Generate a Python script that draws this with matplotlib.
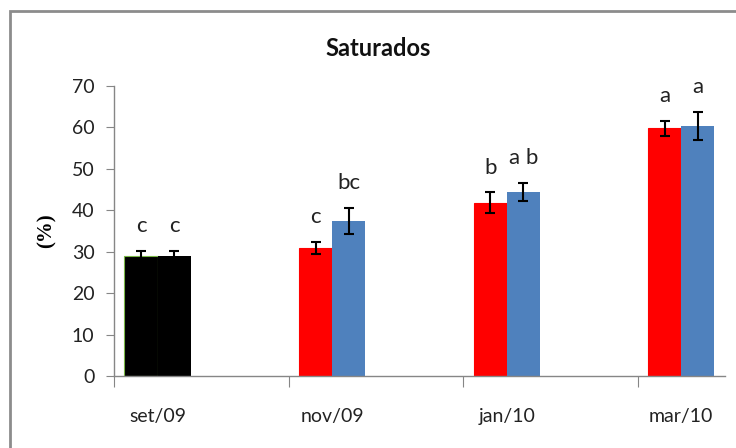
import numpy as np
import matplotlib
matplotlib.use('Agg')
import matplotlib.pyplot as plt
from matplotlib.patches import Rectangle

# values
months = ['set/09', 'nov/09', 'jan/10', 'mar/10']
serie1 = [29.0, 30.9, 41.8, 59.8]
err1 = [1.2, 1.5, 2.5, 1.75]
serie2 = [29.0, 37.4, 44.5, 60.3]
err2 = [1.2, 3.1, 2.2, 3.4]
letras1 = ['c', 'c', 'b', 'a']
letras2 = ['c', 'bc', 'a b', 'a']

plt.rcParams['font.family'] = ['Lato', 'DejaVu Sans']

fig = plt.figure(figsize=(7.36, 4.48), dpi=100)
ax = fig.add_axes([0.1549, 0.1607, 0.830, 0.6473])

x = np.arange(len(months))
w = 0.19
cores1 = ['black', 'red', 'red', 'red']
cores2 = ['black', '#4F81BD', '#4F81BD', '#4F81BD']

ax.bar(x - w / 2, serie1, width=w, color=cores1,
       edgecolor=['#7ab648', 'red', 'red', 'red'], linewidth=0.8)
ax.bar(x + w / 2, serie2, width=w, color=cores2, linewidth=0)
ax.errorbar(x - w / 2, serie1, yerr=err1, fmt='none', ecolor='black',
            elinewidth=1.5, capsize=3.5, capthick=1.5)
ax.errorbar(x + w / 2, serie2, yerr=err2, fmt='none', ecolor='black',
            elinewidth=1.5, capsize=3.5, capthick=1.5)

# significance letters
for i in range(len(months)):
    ax.text(x[i] - w / 2, serie1[i] + err1[i] + 6, letras1[i],
            ha='center', va='center', fontsize=16, color='#222222')
    ax.text(x[i] + w / 2, serie2[i] + err2[i] + 6, letras2[i],
            ha='center', va='center', fontsize=16, color='#222222')

ax.set_xlim(-0.25, 3.25)
ax.set_ylim(0, 70)
ax.set_yticks(range(0, 71, 10))
ax.set_xticks(x - 0.25)
ax.set_xticklabels([])
ax.set_xticks(x, minor=True)
ax.set_xticklabels(months, minor=True)
ax.tick_params(axis='x', which='major', length=8, color='#868686')
ax.tick_params(axis='x', which='minor', length=0, pad=23, labelsize=14,
               labelcolor='#222222')
ax.tick_params(axis='y', length=6, color='#868686', pad=8, labelsize=14,
               labelcolor='#222222')

for s in ['top', 'right']:
    ax.spines[s].set_visible(False)
for s in ['left', 'bottom']:
    ax.spines[s].set_color('#868686')
    ax.spines[s].set_linewidth(1)

fig.text(378 / 736, 1 - 49 / 448, 'Saturados', ha='center', va='center',
         fontsize=17, fontweight='bold', color='#111111')
fig.text(47 / 736, 1 - 231 / 448, '(%)', ha='center', va='center',
         rotation=90, fontsize=15, fontweight='bold',
         family=['Liberation Serif', 'DejaVu Serif'])

# outer chart frame (cut off on the right and bottom)
fig.patches.append(Rectangle((10 / 736, -0.1), 1.2, 1.1 - 11 / 448,
                             transform=fig.transFigure, fill=False,
                             edgecolor='#8c8c8c', linewidth=2))

fig.savefig('out.png', dpi=100)
